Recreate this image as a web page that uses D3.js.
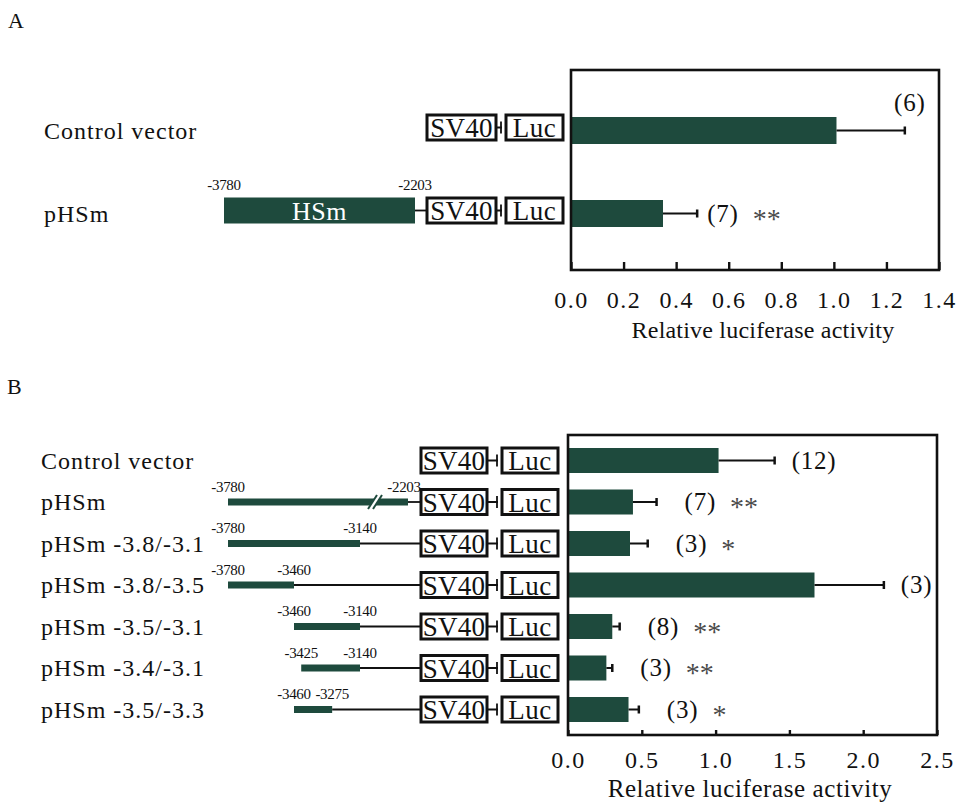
<!DOCTYPE html>
<html><head><meta charset="utf-8">
<script src="https://cdn.jsdelivr.net/npm/d3@7"></script>
<style>
body{margin:0;background:#fff}
text{font-family:"Liberation Serif","Times New Roman",serif;fill:#111}
</style>
</head><body>
<svg id="chart" width="960" height="805"></svg>
<script>
// ---------- DATA ----------
const panelAConstructs = ["Control vector", "pHSm"];
const panelAValues = [1.01, 0.35];
const panelAErrorTop = [1.27, 0.48];
const panelAN = ["(6)", "(7)"];
const panelASig = ["", "**"];
const panelAFragStart = [null, -3780];
const panelAFragEnd = [null, -2203];
const panelATicks = [0, 0.2, 0.4, 0.6, 0.8, 1.0, 1.2, 1.4];
const panelATickLabels = ["0.0", "0.2", "0.4", "0.6", "0.8", "1.0", "1.2", "1.4"];

const panelBConstructs = ["Control vector", "pHSm", "pHSm -3.8/-3.1", "pHSm -3.8/-3.5",
  "pHSm -3.5/-3.1", "pHSm -3.4/-3.1", "pHSm -3.5/-3.3"];
const panelBValues = [1.02, 0.44, 0.42, 1.67, 0.30, 0.26, 0.41];
const panelBErrorTop = [1.40, 0.60, 0.54, 2.14, 0.35, 0.30, 0.48];
const panelBN = ["(12)", "(7)", "(3)", "(3)", "(8)", "(3)", "(3)"];
const panelBSig = ["", "**", "*", "", "**", "**", "*"];
const panelBFragStart = [null, -3780, -3780, -3780, -3460, -3425, -3460];
const panelBFragEnd = [null, -2203, -3140, -3460, -3140, -3140, -3275];
const panelBTicks = [0, 0.5, 1.0, 1.5, 2.0, 2.5];
const panelBTickLabels = ["0.0", "0.5", "1.0", "1.5", "2.0", "2.5"];

const axisTitle = "Relative luciferase activity";

// ---------- DRAW ----------
const svg = d3.select("#chart");
const GREEN = "#1e4a3d";

svg.append("text").attr("x", 8).attr("y", 28).attr("font-size", 22).text("A");
svg.append("text").attr("x", 7).attr("y", 394).attr("font-size", 22).text("B");

function drawPanel(cfg) {
  const n = cfg.names.length;
  const idx = d3.range(n);
  const x = d3.scaleLinear().domain([cfg.ticks[0], cfg.ticks[cfg.ticks.length - 1]]).range([cfg.left, cfg.right]);
  const y = d3.scalePoint().domain(idx).range([cfg.firstRow, cfg.lastRow]);
  const g = svg.append("g");

  // axis (ticks inside the frame)
  const ax = d3.axisBottom(x).tickValues(cfg.ticks)
    .tickFormat((d, i) => cfg.tickLabels[i])
    .tickSizeInner(-cfg.tickLen).tickSizeOuter(0).tickPadding(cfg.tickPad);
  const axG = g.append("g").attr("transform", `translate(0,${cfg.bottom})`).call(ax);
  axG.select(".domain").remove();
  axG.selectAll("line").attr("stroke", "#111").attr("stroke-width", 2.4);
  axG.selectAll("text").attr("font-family", "Liberation Serif").attr("font-size", cfg.tickFont)
    .attr("letter-spacing", 1.5).attr("fill", "#111");

  g.append("text").attr("x", cfg.titleX).attr("y", cfg.titleY).attr("text-anchor", "middle")
    .attr("font-size", cfg.titleFont).attr("letter-spacing", cfg.titleSpacing).text(axisTitle);

  // bars
  g.selectAll("rect.bar").data(idx).join("rect").attr("class", "bar")
    .attr("x", x(0)).attr("y", i => y(i) - cfg.barH / 2)
    .attr("width", i => x(cfg.values[i]) - x(0)).attr("height", cfg.barH)
    .attr("fill", GREEN);

  // error bars
  g.selectAll("line.err").data(idx).join("line").attr("class", "err")
    .attr("x1", i => x(cfg.values[i])).attr("x2", i => x(cfg.errs[i]))
    .attr("y1", i => y(i)).attr("y2", i => y(i)).attr("stroke", "#111").attr("stroke-width", 2);
  g.selectAll("line.cap").data(idx).join("line").attr("class", "cap")
    .attr("x1", i => x(cfg.errs[i])).attr("x2", i => x(cfg.errs[i]))
    .attr("y1", i => y(i) - 4).attr("y2", i => y(i) + 4).attr("stroke", "#111").attr("stroke-width", 2.5);

  // n labels and significance
  idx.forEach(i => {
    const ex = x(cfg.errs[i]);
    const gap = cfg.sig[i] ? cfg.gapStar : cfg.gapPlain;
    const t = g.append("text").attr("font-size", cfg.nFont).attr("letter-spacing", 0.8).text(cfg.nLab[i]);
    const w = t.node().getComputedTextLength();
    if (ex + gap + w > cfg.right - 4) {
      t.attr("x", ex + 5).attr("y", y(i) - cfg.barH / 2 - 6).attr("text-anchor", "middle");
    } else {
      t.attr("x", ex + gap).attr("y", y(i) + 8);
      if (cfg.sig[i]) {
        g.append("text").attr("x", ex + gap + w + 14).attr("y", y(i) + 14)
          .attr("font-size", 28).style("fill", "#4a4a4a").text(cfg.sig[i]);
      }
    }
  });

  // frame
  g.append("rect").attr("x", cfg.left).attr("y", cfg.top)
    .attr("width", cfg.right - cfg.left).attr("height", cfg.bottom - cfg.top)
    .attr("fill", "none").attr("stroke", "#111").attr("stroke-width", 2.6);

  // construct names
  g.selectAll("text.name").data(idx).join("text").attr("class", "name")
    .attr("x", cfg.nameX).attr("y", i => y(i) + 8).attr("font-size", 24)
    .attr("letter-spacing", 1).text(i => cfg.names[i]);

  // SV40 / Luc boxes
  idx.forEach(i => {
    const cy = y(i) + cfg.boxShift;
    const bh = cfg.boxH;
    const s0 = cfg.sv40X, s1 = cfg.sv40X + cfg.sv40W, l0 = cfg.lucX, l1 = cfg.lucX + cfg.lucW;
    g.append("rect").attr("x", s0).attr("y", cy - bh / 2).attr("width", s1 - s0).attr("height", bh)
      .attr("fill", "#fff").attr("stroke", "#111").attr("stroke-width", 3);
    g.append("text").attr("x", (s0 + s1) / 2).attr("y", cy + 9.5).attr("text-anchor", "middle")
      .attr("font-size", 27).attr("letter-spacing", 0.3).text("SV40");
    g.append("line").attr("x1", s1).attr("x2", l0 - 4).attr("y1", cy).attr("y2", cy)
      .attr("stroke", "#111").attr("stroke-width", 2);
    g.append("line").attr("x1", l0 - 5).attr("x2", l0 - 5).attr("y1", cy - 6).attr("y2", cy + 6)
      .attr("stroke", "#111").attr("stroke-width", 1.8);
    g.append("rect").attr("x", l0).attr("y", cy - bh / 2).attr("width", l1 - l0).attr("height", bh)
      .attr("fill", "#fff").attr("stroke", "#111").attr("stroke-width", 3);
    g.append("text").attr("x", (l0 + l1) / 2).attr("y", cy + 9.5).attr("text-anchor", "middle")
      .attr("font-size", 27).attr("letter-spacing", 0.5).text("Luc");
  });

  // promoter fragments
  const fx = d3.scaleLinear().domain(cfg.fragDomain).range(cfg.fragRange);
  idx.forEach(i => {
    const a = cfg.fragStart[i], b = cfg.fragEnd[i];
    if (a == null) return;
    const cy = y(i) + cfg.boxShift;
    const x0 = fx(a);
    const broken = b > cfg.fragDomain[1];
    const x1 = broken ? cfg.sv40X - 13 : fx(b);
    const h = cfg.fragH;
    g.append("line").attr("x1", x1).attr("x2", cfg.sv40X).attr("y1", cy).attr("y2", cy)
      .attr("stroke", "#111").attr("stroke-width", 1.8);
    g.append("rect").attr("x", x0).attr("y", cy - h / 2).attr("width", x1 - x0).attr("height", h)
      .attr("fill", GREEN);
    if (broken) {
      const bx = x1 - 34;
      g.append("path").attr("d", `M${bx - 6},${cy + 7} L${bx + 3},${cy - 7} L${bx + 8},${cy - 7} L${bx - 1},${cy + 7} Z`)
        .attr("fill", "#fff");
      [[-6, 3], [-1, 8]].forEach(([p, q]) => {
        g.append("line").attr("x1", bx + p).attr("y1", cy + 7).attr("x2", bx + q).attr("y2", cy - 7)
          .attr("stroke", GREEN).attr("stroke-width", 2);
      });
    }
    if (cfg.fragText) {
      g.append("text").attr("x", (x0 + x1) / 2).attr("y", cy + 9).attr("text-anchor", "middle")
        .attr("font-size", 26).attr("letter-spacing", 0.5).style("fill", "#fff").text(cfg.fragText);
    }
    const ly = cy - h / 2 - cfg.labGap;
    g.append("text").attr("x", x0).attr("y", ly).attr("text-anchor", "middle")
      .attr("font-size", 15).attr("letter-spacing", -0.3).text(String(a));
    g.append("text").attr("x", broken ? x1 - 4 : x1).attr("y", ly).attr("text-anchor", "middle")
      .attr("font-size", 15).attr("letter-spacing", -0.3).text(String(b));
  });
}

drawPanel({
  names: panelAConstructs, values: panelAValues, errs: panelAErrorTop,
  nLab: panelAN, sig: panelASig, fragStart: panelAFragStart, fragEnd: panelAFragEnd,
  ticks: panelATicks, tickLabels: panelATickLabels,
  left: 571, right: 939, top: 70, bottom: 270, firstRow: 130.5, lastRow: 213.5,
  barH: 27, tickLen: 8, tickPad: 21, tickFont: 24,
  titleX: 763, titleY: 338, titleFont: 24, titleSpacing: 0.2,
  gapStar: 10, gapPlain: 16, nFont: 25, nameX: 44,
  boxShift: -3, boxH: 25, sv40X: 427, sv40W: 69, lucX: 506, lucW: 57,
  fragDomain: [-3780, -2203], fragRange: [224, 415], fragH: 26, fragText: "HSm", labGap: 8
});

drawPanel({
  names: panelBConstructs, values: panelBValues, errs: panelBErrorTop,
  nLab: panelBN, sig: panelBSig, fragStart: panelBFragStart, fragEnd: panelBFragEnd,
  ticks: panelBTicks, tickLabels: panelBTickLabels,
  left: 568, right: 937, top: 435, bottom: 735, firstRow: 460.5, lastRow: 709.5,
  barH: 25, tickLen: 5, tickPad: 16, tickFont: 24,
  titleX: 750, titleY: 797, titleFont: 25, titleSpacing: 0.6,
  gapStar: 28, gapPlain: 17, nFont: 25, nameX: 41,
  boxShift: 0, boxH: 25, sv40X: 421, sv40W: 66, lucX: 502, lucW: 56,
  fragDomain: [-3780, -3140], fragRange: [228, 360], fragH: 7, fragText: null, labGap: 7
});
</script>
</body></html>
